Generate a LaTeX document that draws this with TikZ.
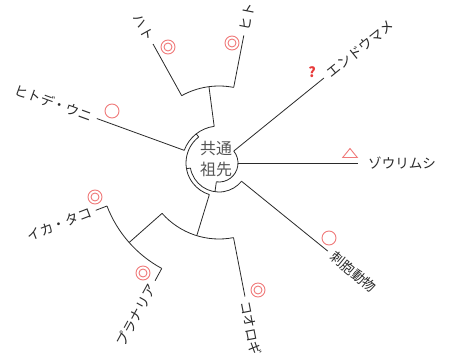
\documentclass[tikz,border=0pt]{standalone}
\usepackage{fontspec}
\newfontfamily\jp{Noto Sans CJK JP}
\usetikzlibrary{shapes.geometric}
\definecolor{ln}{HTML}{2A2A2A}
\definecolor{ctxt}{HTML}{555555}
\definecolor{mk}{HTML}{F07A7A}
\definecolor{qm}{HTML}{E83A3A}
\begin{document}
\begin{tikzpicture}[x=1bp,y=1bp,
  br/.style={draw=ln,line width=0.8bp},
  lbl/.style={font=\jp\fontsize{13.6}{15}\selectfont,text=ln,inner sep=1bp},
  ring/.style={circle,draw=mk,line width=0.9bp,minimum size=14bp,inner sep=0pt},
  iring/.style={circle,draw=mk,line width=0.9bp,minimum size=8bp,inner sep=0pt}]
\useasboundingbox[fill=white] (0,0) rectangle (451,362);

\begin{scope}[shift={(219,199)}]
% internal node points
\coordinate (root) at (0,0);
\coordinate (rA) at (262:19);
\coordinate (aA) at (262:29);
\coordinate (aS) at (190:29);
\coordinate (bS) at (190:33);
\coordinate (bS1) at (128:33);
\coordinate (dS) at (128:37);
\coordinate (dS2) at (97.5:37);
\coordinate (hS) at (97.5:77);
\coordinate (bS2) at (253:33);
\coordinate (pS) at (253:76);
\coordinate (pS1) at (221.5:76);
\coordinate (iS) at (221.5:120);
% leaf ends
\coordinate (hitoI) at (79:77);   \coordinate (hitoO) at (79:130);
\coordinate (hatoI) at (119:77);  \coordinate (hatoO) at (119:136);
\coordinate (hitodeI) at (160:37); \coordinate (hitodeO) at (160:130);
\coordinate (ikaI) at (201:120);  \coordinate (ikaO) at (201:132);
\coordinate (plaI) at (241.5:120); \coordinate (plaO) at (241.5:134);
\coordinate (kooI) at (281:76);   \coordinate (kooO) at (281:136);
\coordinate (shiI) at (321:29);   \coordinate (shiO) at (321:140);
\coordinate (zouI) at (0:19);     \coordinate (zouO) at (0:139);
\coordinate (endI) at (39:19);    \coordinate (endO) at (39:135);

% arcs
\draw[br] (rA) arc[start angle=262,end angle=399,radius=19];
\draw[br] (aS) arc[start angle=190,end angle=321,radius=29];
\draw[br] (bS1) arc[start angle=128,end angle=253,radius=33];
\draw[br] (dS2) arc[start angle=97.5,end angle=160,radius=37];
\draw[br] (hitoI) arc[start angle=79,end angle=119,radius=77];
\draw[br] (pS1) arc[start angle=221.5,end angle=281,radius=76];
\draw[br] (ikaI) arc[start angle=201,end angle=241.5,radius=120];

% stems
\draw[br] (rA) -- (aA);
\draw[br] (aS) -- (bS);
\draw[br] (bS1) -- (dS);
\draw[br] (dS2) -- (hS);
\draw[br] (bS2) -- (pS);
\draw[br] (pS1) -- (iS);
% leaves
\draw[br] (hitoI) -- (hitoO);
\draw[br] (hatoI) -- (hatoO);
\draw[br] (hitodeI) -- (hitodeO);
\draw[br] (ikaI) -- (ikaO);
\draw[br] (plaI) -- (plaO);
\draw[br] (kooI) -- (kooO);
\draw[br] (shiI) -- (shiO);
\draw[br] (zouI) -- (zouO);
\draw[br] (endI) -- (endO);

% labels
\node[lbl,anchor=west,rotate=79] (tHito) at (79:134) {ヒト};
\node[lbl,anchor=east,rotate=-61] (tHato) at (119:140) {ハト};
\node[lbl,anchor=east,rotate=-20] (tHitode) at (160:134) {ヒトデ・ウニ};
\node[lbl,anchor=east,rotate=21] (tIka) at (201:136) {イカ・タコ};
\node[lbl,anchor=east,rotate=61.5] (tPla) at (241.5:138) {プラナリア};
\node[lbl,anchor=west,rotate=-79] (tKoo) at (281:140) {コオロギ};
\node[lbl,anchor=west,rotate=-39] (tShi) at (321:145) {刺胞動物};
\node[lbl,anchor=west] (tZou) at (0:148) {ゾウリムシ};
\node[lbl,anchor=west,rotate=39] (tEnd) at (39:140) {エンドウマメ};
\end{scope}

\node[font=\jp\fontsize{16}{21}\selectfont,text=ctxt,align=center,inner sep=0pt] (anc) at (216,203) {共通\\祖先};

% markers
\node[ring] (mHato) at (168,315) {}; \node[iring] (mHatoI) at (mHato) {};
\node[ring] (mHito) at (232,319) {}; \node[iring] (mHitoI) at (mHito) {};
\node[ring] (mHitode) at (112,251) {};
\node[text=qm,font=\jp\bfseries\fontsize{14}{14}\selectfont,inner sep=0pt] (mEnd) at (312,290) {?};
\coordinate (triA) at (342.7,204.5);
\coordinate (triB) at (357.3,204.5);
\coordinate (triC) at (350,213.5);
\draw[draw=mk,line width=0.9bp] (triA) -- (triB) -- (triC) -- cycle;
\node[ring] (mShi) at (329,124) {};
\node[ring] (mKoo) at (258,72) {}; \node[iring] (mKooI) at (mKoo) {};
\node[ring] (mPla) at (143,89) {}; \node[iring] (mPlaI) at (mPla) {};
\node[ring] (mIka) at (95,165) {}; \node[iring] (mIkaI) at (mIka) {};
\end{tikzpicture}
\end{document}
